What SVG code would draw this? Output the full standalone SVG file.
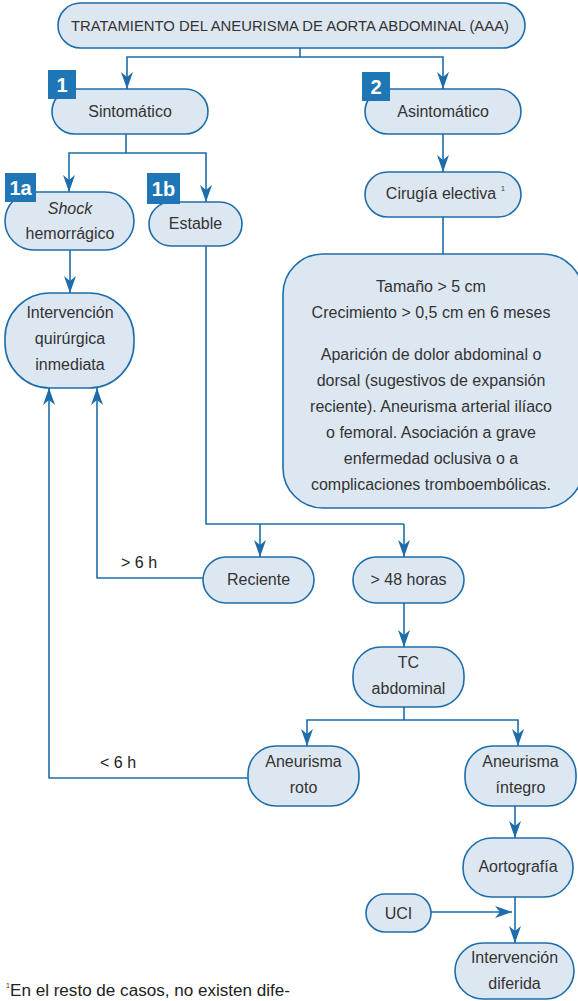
<svg xmlns="http://www.w3.org/2000/svg" width="578" height="1001" viewBox="0 0 578 1001">
<style>
.box{fill:#dde7f2;stroke:#1d6dab;stroke-width:1.6}
.t{font-family:"Liberation Sans",Arial,sans-serif;font-size:16px;fill:#333;text-anchor:middle}
.lbl{font-family:"Liberation Sans",Arial,sans-serif;font-size:16px;fill:#222}
.sup{font-family:"Liberation Sans",Arial,sans-serif;font-size:7px;fill:#333}
.badge{fill:#1e76b6}
.bt{font-family:"Liberation Sans",Arial,sans-serif;font-size:20px;font-weight:bold;fill:#fff;text-anchor:middle}
.ln{fill:none;stroke:#1d6dab;stroke-width:1.6}
.arr{marker-end:url(#ah)}
</style>
<defs>
<marker id="ah" markerUnits="userSpaceOnUse" markerWidth="18" markerHeight="12" refX="17" refY="6" orient="auto">
<path d="M0,0 L17,6 L0,12 L5,6 z" fill="#1d6dab"/>
</marker>
</defs>
<rect width="578" height="1001" fill="#fff"/>
<g id="connectors">
<path class="ln" d="M300,48 V57"/>
<path class="ln arr" d="M300,57 H127 V89"/>
<path class="ln arr" d="M300,57 H443 V89"/>
<path class="ln" d="M126,134 V153"/>
<path class="ln arr" d="M126,153 H69 V192"/>
<path class="ln arr" d="M126,153 H206 V202"/>
<path class="ln arr" d="M443,134 V172"/>
<path class="ln" d="M443,217 V254"/>
<path class="ln arr" d="M70,250 V293"/>
<path class="ln" d="M206,246 V524 H404"/>
<path class="ln arr" d="M260,524 V557"/>
<path class="ln arr" d="M404,524 V557"/>
<path class="ln arr" d="M203,578 H97 V388"/>
<path class="ln arr" d="M248,778 H49 V388"/>
<path class="ln arr" d="M404,603 V647"/>
<path class="ln" d="M404,707 V720"/>
<path class="ln arr" d="M404,720 H307 V746"/>
<path class="ln arr" d="M404,720 H518 V746"/>
<path class="ln arr" d="M515,806 V838"/>
<path class="ln arr" d="M515,897 V943"/>
<path class="ln arr" d="M431,912 H512"/>
<text class="lbl" x="121" y="568">&gt; 6 h</text>
<text class="lbl" x="100" y="768">&lt; 6 h</text>
</g>
<g id="title">
<rect class="box" x="58" y="3" width="467" height="45" rx="22.5"/>
<text class="t" x="290" y="31" style="font-size:15px" textLength="438" lengthAdjust="spacingAndGlyphs">TRATAMIENTO DEL ANEURISMA DE AORTA ABDOMINAL (AAA)</text>
</g>
<g id="sintomatico">
<rect class="box" x="52" y="89" width="156" height="45" rx="22.5"/>
<text class="t" x="130" y="117">Sintomático</text>
<rect class="badge" x="48" y="70" width="28" height="29"/>
<text class="bt" x="62" y="92">1</text>
</g>
<g id="asintomatico">
<rect class="box" x="365" y="89" width="156" height="45" rx="22.5"/>
<text class="t" x="443" y="117">Asintomático</text>
<rect class="badge" x="362" y="72" width="28" height="29"/>
<text class="bt" x="376" y="94">2</text>
</g>
<g id="shock">
<rect class="box" x="5" y="192" width="129" height="58" rx="29"/>
<text class="t" x="70" y="214" font-style="italic">Shock</text>
<text class="t" x="70" y="239">hemorrágico</text>
<rect class="badge" x="5" y="173" width="31" height="29"/>
<text class="bt" x="20.5" y="195">1a</text>
</g>
<g id="estable">
<rect class="box" x="149" y="202" width="93" height="44" rx="22"/>
<text class="t" x="195.5" y="229">Estable</text>
<rect class="badge" x="147" y="173" width="33" height="31"/>
<text class="bt" x="163.5" y="196">1b</text>
</g>
<g id="cirugia">
<rect class="box" x="365" y="172" width="156" height="45" rx="22.5"/>
<text class="t" x="441" y="199">Cirugía electiva</text>
<text class="sup" x="501" y="191">1</text>
</g>
<g id="criterios">
<rect class="box" x="283" y="254" width="300" height="254" rx="40"/>
<text class="t" x="431" y="292">Tamaño &gt; 5 cm</text>
<text class="t" x="431" y="318">Crecimiento &gt; 0,5 cm en 6 meses</text>
<text class="t" x="431" y="360">Aparición de dolor abdominal o</text>
<text class="t" x="431" y="386">dorsal (sugestivos de expansión</text>
<text class="t" x="431" y="412">reciente). Aneurisma arterial ilíaco</text>
<text class="t" x="431" y="438">o femoral. Asociación a grave</text>
<text class="t" x="431" y="464">enfermedad oclusiva o a</text>
<text class="t" x="431" y="490">complicaciones tromboembólicas.</text>
</g>
<g id="intervencion-inmediata">
<rect class="box" x="5" y="293" width="129" height="95" rx="45"/>
<text class="t" x="70" y="318">Intervención</text>
<text class="t" x="70" y="344">quirúrgica</text>
<text class="t" x="70" y="370">inmediata</text>
</g>
<g id="reciente">
<rect class="box" x="203" y="557" width="111" height="46" rx="23"/>
<text class="t" x="258.5" y="585">Reciente</text>
</g>
<g id="mas48">
<rect class="box" x="353" y="557" width="111" height="46" rx="23"/>
<text class="t" x="408.5" y="585">&gt; 48 horas</text>
</g>
<g id="tc">
<rect class="box" x="353" y="647" width="111" height="60" rx="28"/>
<text class="t" x="408.5" y="668">TC</text>
<text class="t" x="408.5" y="694">abdominal</text>
</g>
<g id="roto">
<rect class="box" x="248" y="746" width="111" height="60" rx="28"/>
<text class="t" x="303.5" y="767">Aneurisma</text>
<text class="t" x="303.5" y="793">roto</text>
</g>
<g id="integro">
<rect class="box" x="465" y="746" width="111" height="60" rx="28"/>
<text class="t" x="520.5" y="767">Aneurisma</text>
<text class="t" x="520.5" y="793">íntegro</text>
</g>
<g id="aortografia">
<rect class="box" x="463" y="838" width="110" height="59" rx="29"/>
<text class="t" x="518" y="872">Aortografía</text>
</g>
<g id="uci">
<rect class="box" x="366" y="894" width="65" height="38" rx="19"/>
<text class="t" x="398.5" y="919">UCI</text>
</g>
<g id="intervencion-diferida">
<rect class="box" x="455" y="943" width="119" height="56" rx="28"/>
<text class="t" x="514.5" y="963">Intervención</text>
<text class="t" x="514.5" y="989">diferida</text>
</g>
<g id="footnote">
<text class="sup" x="6" y="988">1</text>
<text class="lbl" x="10" y="996" textLength="280" lengthAdjust="spacingAndGlyphs">En el resto de casos, no existen dife-</text>
</g>
</svg>
